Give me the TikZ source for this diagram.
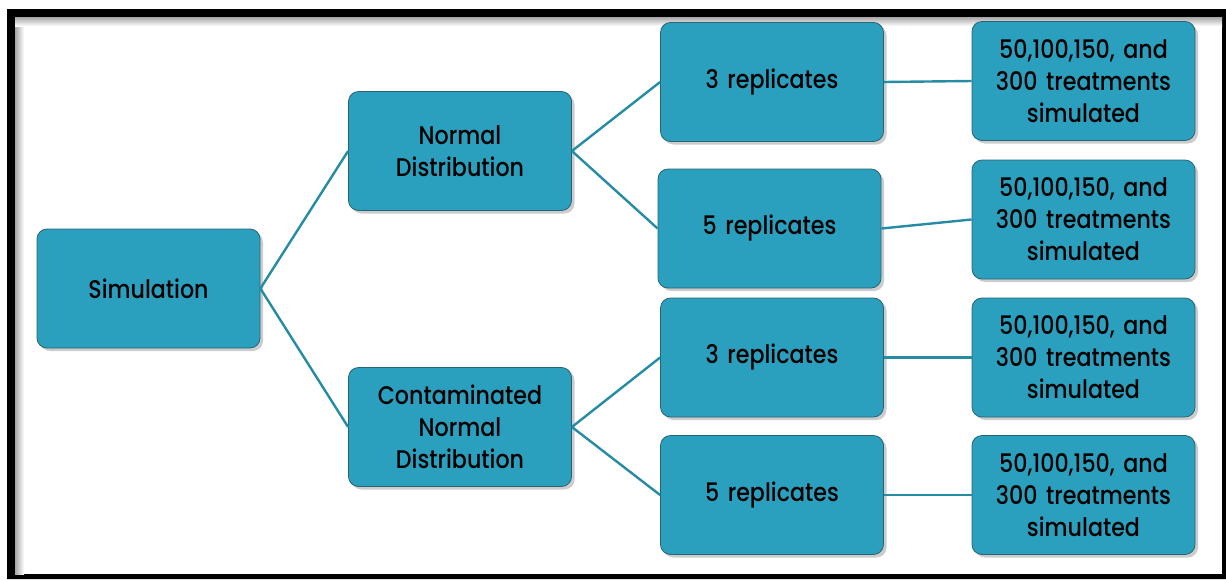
\documentclass[tikz,border=0pt]{standalone}
\usepackage{fontspec}
\setmainfont{Poppins}[UprightFont=* Medium, FakeStretch=0.87]
\usetikzlibrary{shadows}
\definecolor{boxteal}{RGB}{43,160,190}
\definecolor{boxedge}{RGB}{40,100,115}
\definecolor{linkteal}{RGB}{38,140,165}

\begin{document}
\begin{tikzpicture}[x=1pt,y=-1pt]
    \tikzstyle{box}=[rectangle, rounded corners=10pt, minimum width=223pt, minimum height=119pt, inner sep=2pt, fill=boxteal, draw=boxedge, line width=0.8pt, text width=215pt, align=center, font=\fontsize{25.5}{32}\selectfont, drop shadow={shadow xshift=3pt, shadow yshift=-3pt, opacity=0.4}]
    \tikzstyle{link}=[draw=linkteal, line width=2.4pt]

    % Draw the frame
    \useasboundingbox (0,0) rectangle (1226,579);
    \fill[even odd rule] (7,9) rectangle (1226,579) (15,17) rectangle (1222,574);
    \shade[left color=black!35, right color=white] (15,17) rectangle (24,574);
    \shade[top color=black!35, bottom color=white] (15,17) rectangle (1222,26);

    % Draw the root node
    \node[box] (sim) at (148.5,288.5) {Simulation};

    % Draw the distribution nodes
    \node[box] (nd) at (460,151) {Normal\\Distribution};
    \node[box] (cnd) at (460,427) {Contaminated\\Normal\\Distribution};

    % Draw the replicate nodes
    \foreach \name/\reps/\x/\y in {r3a/3/772/82, r5a/5/769.5/228.5, r3b/3/772/357.5, r5b/5/772/495}
      \node[box] (\name) at (\x,\y) {\reps{} replicates};

    % Draw the treatment nodes
    \foreach \name/\y in {t1/81, t2/219.5, t3/357.5, t4/495}
      \node[box] (\name) at (1083.5,\y) {50,100,150, and\\300 treatments\\simulated};

    \foreach \a/\b in {sim/nd, sim/cnd, nd/r3a, nd/r5a, cnd/r3b, cnd/r5b, r3a/t1, r5a/t2, r3b/t3, r5b/t4}
      \path (\a.east) edge[link] (\b.west);
\end{tikzpicture}
\end{document}
